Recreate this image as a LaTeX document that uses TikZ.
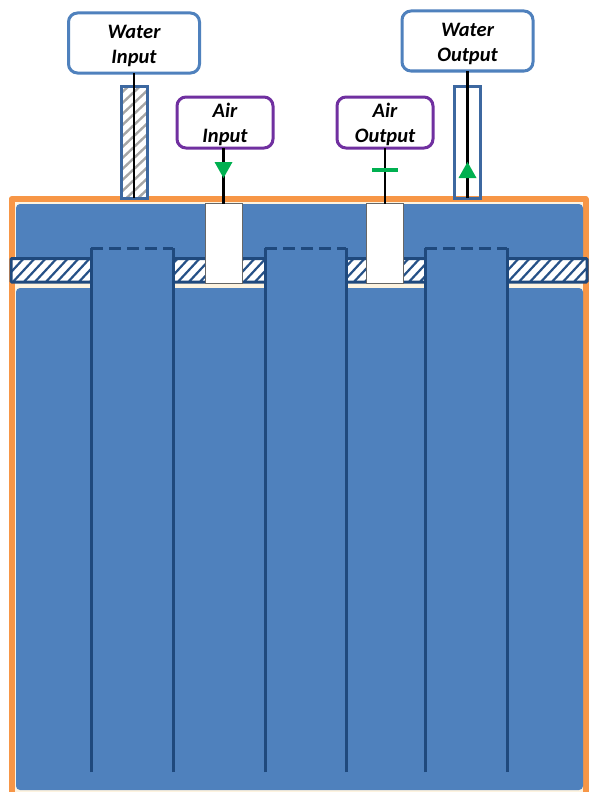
\documentclass[tikz,border=0pt]{standalone}
\usepackage{fontspec}
\setmainfont{Carlito}
\definecolor{panel}{HTML}{4F81BD}
\definecolor{dark}{HTML}{1F497D}
\definecolor{tubeblue}{HTML}{3D68A0}
\definecolor{orng}{HTML}{F79646}
\definecolor{purp}{HTML}{7030A0}
\definecolor{grn}{HTML}{00B050}
\definecolor{cream}{HTML}{FDF3E0}
\definecolor{hatchgrey}{HTML}{A6A6A6}
\newcommand{\toppad}{\rule{0pt}{19pt}}
\tikzset{x=1pt,y=-1pt,
  labelbox/.style={draw,line width=3pt,fill=white,rounded corners=9pt,align=center,
    font=\fontsize{20.5}{25}\selectfont\bfseries\itshape,inner sep=0pt,outer sep=0pt,text=black},
  waterbox/.style={labelbox,draw=panel,minimum width=131pt,minimum height=60pt},
  airbox/.style={labelbox,draw=purp,minimum width=96pt,minimum height=51pt},
  pipe/.style={draw=black,line width=2.8pt},
  panelbox/.style={fill=panel,rounded corners=4pt},
  finger/.style={draw=dark,line width=3pt},
  port/.style={fill=white,draw=black!60,line width=0.6pt,inner sep=0pt,outer sep=0pt,minimum width=37pt,minimum height=80pt},
  tube/.style={draw=tubeblue,line width=3pt,inner sep=0pt,outer sep=0pt,minimum width=26pt,minimum height=112pt},
  bandbox/.style={draw=dark,line width=3pt,rounded corners=1pt},
  greentip/.style={fill=grn}}
\begin{document}
\begin{tikzpicture}
\useasboundingbox (0,0) rectangle (595,792);
\fill[white] (0,0) rectangle (595,792);
% housing
\fill[cream] (11,199) rectangle (586,792);
\draw[orng,line width=6pt,line join=round] (11.5,792) -- (11.5,199) -- (585.5,199) -- (585.5,792);
\fill[panel,rounded corners=4pt] (16,204) rectangle (583,270);
\fill[panelbox] (16,288) rectangle (583,790);
% hatched band
\fill[white] (10,258) rectangle (588,282);
\begin{scope}
\clip (10,258) rectangle (588,282);
\foreach \i in {0,11,...,620} \draw[dark!85!panel,line width=2.2pt] (\i,284) -- (\i+26,256);
\end{scope}
\draw[bandbox] (11,258.5) rectangle (587,282);
% fingers
\foreach \a/\b in {91/173,265/346,425/507}{
  \fill[panel] (\a,248) rectangle (\b,772);
  \draw[finger] (\a,772) -- (\a,248);
  \draw[finger] (\b,772) -- (\b,248);
  \draw[finger,dash pattern=on 12pt off 6pt] (\a,248) -- (\b,248);
}
% air ports
\node[port] (airinport) at (223.5,243.5) {};
\node[port] (airoutport) at (385,243.5) {};
% water tubes
\fill[white] (121,86) rectangle (147,198);
\begin{scope}
\clip (121,86) rectangle (147,198);
\foreach \i in {70,81,...,210} \draw[hatchgrey,line width=2.4pt] (115,\i+18) -- (153,\i-18);
\end{scope}
\node[tube] (watertubein) at (134,142) {};
\node[tube] (watertubeout) at (467.5,142) {};
% labels
\node[waterbox] (waterin) at (134,43) {\toppad Water\\Input};
\node[waterbox] (waterout) at (467.5,41) {\toppad Water\\Output};
\node[airbox] (airin) at (225,122.5) {\toppad Air\\Input};
\node[airbox] (airout) at (385,122.5) {\toppad Air\\Output};
% connectors
\draw[pipe] (waterin.south) -- (watertubein.south);
\draw[pipe] (waterout.south) -- (watertubeout.south);
\draw[pipe] (airinport.north |- airin.south) -- (airinport.north);
\draw[pipe] (airout.south) -- (airoutport.north);
% flow marks
\fill[greentip] (214.5,162) -- (232.5,162) -- (223.5,178) -- cycle;
\fill[greentip] (458.5,178) -- (476.5,178) -- (467.5,162) -- cycle;
\draw[grn,line width=3.4pt] (372,170) -- (398,170);
\end{tikzpicture}
\end{document}
